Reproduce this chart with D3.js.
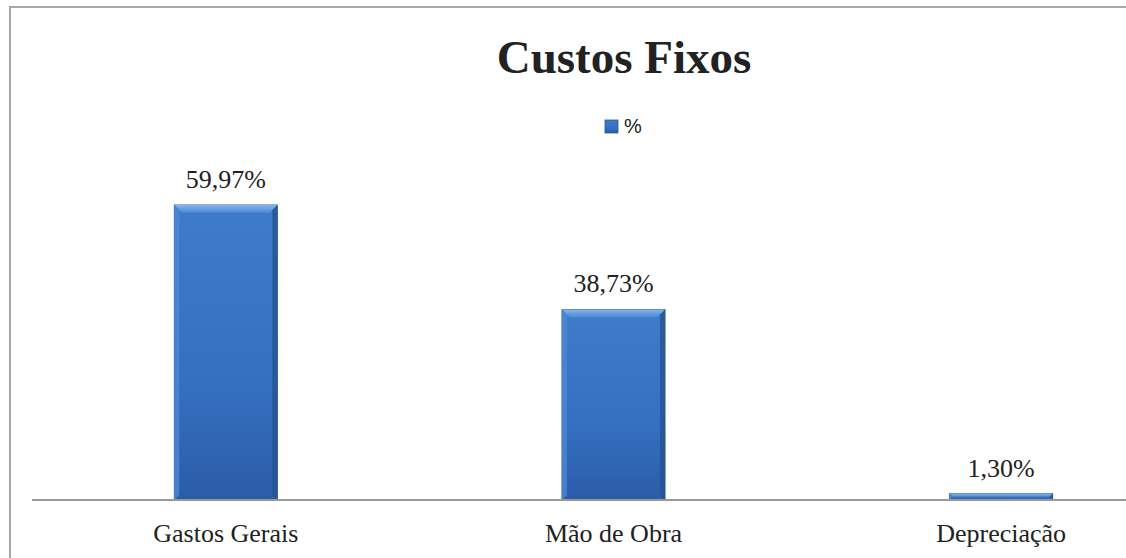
<!DOCTYPE html>
<html>
<head>
<meta charset="utf-8">
<script src="https://cdn.jsdelivr.net/npm/d3@7"></script>
<style>
body{margin:0;background:#fff}
</style>
</head>
<body>
<div id="w"></div>
<script>
var categories = ["Gastos Gerais", "Mão de Obra", "Depreciação"]
var values = [59.97, 38.73, 1.30]
var labels = ["59,97%", "38,73%", "1,30%"]
var seriesName = "%"

var W = 1126, H = 558
var serif = "'Liberation Serif', 'Times New Roman', serif"
var svg = d3.select("#w").append("svg")
  .attr("width", W)
  .attr("height", H)

var defs = svg.append("defs")
var g1 = defs.append("linearGradient").attr("id","barFill")
  .attr("x1",0).attr("y1",0).attr("x2",0).attr("y2",1)
g1.append("stop").attr("offset","0%").attr("stop-color","#3f7bc9")
g1.append("stop").attr("offset","60%").attr("stop-color","#3570c0")
g1.append("stop").attr("offset","100%").attr("stop-color","#2a5ca8")
var g2 = defs.append("linearGradient").attr("id","bevelTop")
  .attr("x1",0).attr("y1",0).attr("x2",0).attr("y2",1)
g2.append("stop").attr("offset","0%").attr("stop-color","#86b6ea")
g2.append("stop").attr("offset","100%").attr("stop-color","#4a86d2")

// outer frame
svg.append("rect")
  .attr("x", 10).attr("y", 7)
  .attr("width", W + 20).attr("height", H + 20)
  .attr("fill", "none").attr("stroke", "#a6a6a6").attr("stroke-width", 2)

var x = d3.scaleBand().domain(categories).range([32, 1195]).paddingInner(0.734).paddingOuter(0.367)
var y = d3.scaleLinear().domain([0, 100]).range([500, 8])

var bars = svg.selectAll("g.bar").data(values).enter().append("g").attr("class","bar")

bars.append("rect")
  .attr("x", (d,i) => x(categories[i]))
  .attr("y", d => y(d))
  .attr("width", x.bandwidth())
  .attr("height", d => y(0) - y(d))
  .attr("fill", "url(#barFill)")
  .attr("stroke", "#2a5aa0").attr("stroke-width", 0.8)

// bevel highlight on top
bars.append("path")
  .attr("d", (d,i) => {
    var x0 = x(categories[i]), x1 = x0 + x.bandwidth(), t = y(d)
    var b = Math.min(8, (y(0) - t) / 2)
    return "M"+x0+","+t+"L"+x1+","+t+"L"+(x1-b)+","+(t+b)+"L"+(x0+b)+","+(t+b)+"Z"
  })
  .attr("fill", "url(#bevelTop)")
// bevel sides
bars.append("path")
  .attr("d", (d,i) => {
    var x0 = x(categories[i]), t = y(d), bt = y(0)
    var b = Math.min(5, (bt - t) / 2)
    return "M"+x0+","+t+"L"+(x0+b)+","+(t+b)+"L"+(x0+b)+","+(bt-b)+"L"+x0+","+bt+"Z"
  })
  .attr("fill", "#4d88d4").attr("opacity", 0.8)
bars.append("path")
  .attr("d", (d,i) => {
    var x1 = x(categories[i]) + x.bandwidth(), t = y(d), bt = y(0)
    var b = Math.min(5, (bt - t) / 2)
    return "M"+x1+","+t+"L"+(x1-b)+","+(t+b)+"L"+(x1-b)+","+(bt-b)+"L"+x1+","+bt+"Z"
  })
  .attr("fill", "#24528f").attr("opacity", 0.8)

// data labels
svg.selectAll("text.val").data(values).enter().append("text")
  .attr("class","val")
  .attr("x", (d,i) => x(categories[i]) + x.bandwidth()/2)
  .attr("y", d => y(d) - 17)
  .attr("text-anchor","middle")
  .style("font-family", serif)
  .style("font-size","26px")
  .attr("fill","#222")
  .text((d,i) => labels[i])

// x axis
var xAxis = d3.axisBottom(x).tickSize(0).tickPadding(0)
var ax = svg.append("g").attr("transform","translate(0,500)").call(xAxis)
ax.select(".domain").attr("stroke","#999").attr("stroke-width",2).attr("d","M32,0H1126")
ax.selectAll("text")
  .attr("y", 42).attr("dy", null)
  .style("font-family", serif)
  .style("font-size","26px").attr("fill","#222")

// title
svg.append("text")
  .attr("x", 624).attr("y", 73)
  .attr("text-anchor","middle")
  .style("font-family", serif)
  .style("font-weight","bold")
  .style("font-size","47px")
  .attr("fill","#222")
  .text("Custos Fixos")

// legend
var lg = svg.append("g").attr("transform","translate(605,120)")
lg.append("rect").attr("width",13).attr("height",13)
  .attr("fill","url(#barFill)").attr("stroke","#2a5aa0").attr("stroke-width",0.8)
lg.append("text").attr("x",19).attr("y",13)
  .style("font-family","'Liberation Sans', Arial, sans-serif")
  .style("font-size","20px").attr("fill","#222")
  .text(seriesName)
</script>
</body>
</html>
